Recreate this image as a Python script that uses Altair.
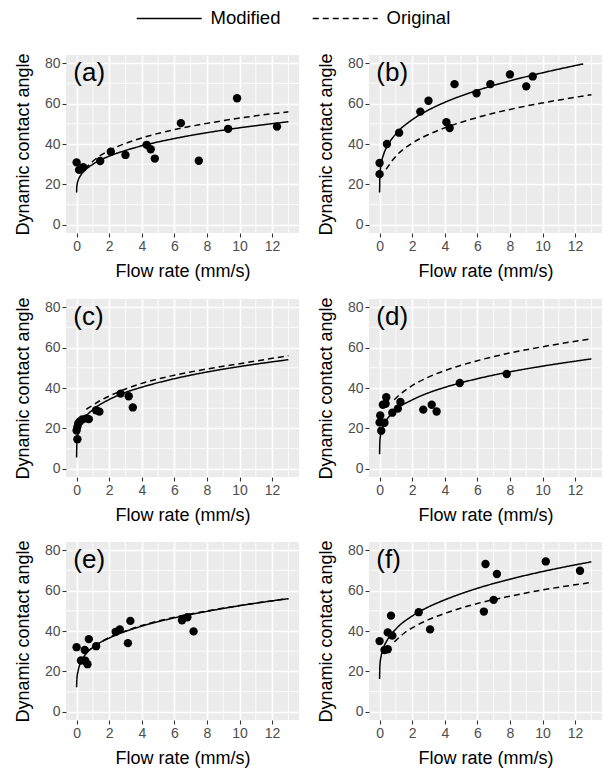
import altair as alt
import pandas as pd

FONT = "Liberation Sans"

# Axis breaks and minor grid positions
X_TICKS = [0, 2, 4, 6, 8, 10, 12]
Y_TICKS = [0, 20, 40, 60, 80]
X_MINOR = [1, 3, 5, 7, 9, 11, 13]
Y_MINOR = [10, 30, 50, 70]
X_DOMAIN = [-0.65, 13.65]
Y_DOMAIN = [-4, 84]

PANEL_LABELS = ["(a)", "(b)", "(c)", "(d)", "(e)", "(f)"]

# Measured flow rate (mm/s) and dynamic contact angle for each case
a_x = [0.0, 0.15, 0.4, 1.45, 2.1, 3.0, 4.3, 4.55, 4.8, 6.4, 7.5, 9.3, 9.85, 12.3]
a_y = [30.9, 27.2, 28.5, 31.6, 36.2, 34.6, 39.6, 37.4, 32.8, 50.3, 31.7, 47.5, 62.6, 48.6]
b_x = [0.0, 0.0, 0.45, 1.2, 2.5, 3.0, 4.1, 4.3, 4.6, 5.95, 6.8, 8.0, 9.0, 9.4]
b_y = [25.1, 30.6, 40.0, 45.6, 56.0, 61.4, 50.8, 47.9, 69.6, 65.1, 69.6, 74.4, 68.5, 73.4]
c_x = [0.0, 0.05, 0.05, 0.1, 0.2, 0.35, 0.6, 0.75, 1.2, 1.4, 2.7, 3.2, 3.45]
c_y = [19.0, 14.7, 20.8, 22.5, 23.5, 24.5, 25.0, 24.6, 29.0, 28.3, 37.2, 35.9, 30.4]
d_x = [0.0, 0.04, 0.1, 0.2, 0.3, 0.37, 0.41, 0.78, 1.12, 1.28, 2.68, 3.2, 3.5, 4.92, 7.8]
d_y = [23.0, 26.4, 18.9, 31.7, 22.8, 32.2, 35.4, 27.8, 29.8, 33.1, 29.3, 31.7, 28.4, 42.5, 46.9]
e_x = [0.0, 0.27, 0.5, 0.53, 0.67, 0.75, 1.2, 2.4, 2.65, 3.15, 3.3, 6.47, 6.8, 7.18]
e_y = [32.0, 25.4, 30.6, 25.3, 23.6, 36.0, 32.5, 39.6, 40.8, 34.0, 45.0, 45.3, 46.8, 39.8]
f_x = [0.0, 0.3, 0.5, 0.5, 0.7, 0.78, 2.4, 3.1, 6.4, 6.5, 7.0, 7.2, 10.2, 12.3]
f_y = [35.0, 30.6, 31.0, 39.3, 47.6, 37.7, 49.3, 40.8, 49.6, 73.1, 55.4, 68.2, 74.4, 69.8]

# Fitted curves: Modified model (solid)
a_mod_x = [0, 0.02, 0.1, 0.25, 0.5, 1, 2, 3, 4, 6, 8, 10, 13]
a_mod_y = [16.0, 19.4, 22.1, 24.5, 26.9, 30.0, 34.0, 36.8, 39.1, 42.7, 45.6, 48.0, 51.0]
b_mod_x = [0, 0.02, 0.1, 0.25, 0.5, 1, 2, 3, 4, 6, 8, 10, 12.5]
b_mod_y = [16.0, 24.6, 30.2, 34.9, 39.4, 45.0, 52.0, 56.8, 60.6, 66.5, 71.2, 75.2, 79.6]
c_mod_x = [0, 0.02, 0.1, 0.25, 0.5, 1, 2, 3, 4, 6, 8, 10, 13]
c_mod_y = [5.6, 13.6, 18.1, 21.7, 25.2, 29.3, 34.3, 37.8, 40.4, 44.6, 47.9, 50.6, 54.0]
d_mod_x = [0, 0.02, 0.1, 0.25, 0.5, 1, 2, 3, 4, 6, 8, 10, 13]
d_mod_y = [7.3, 14.0, 18.2, 21.7, 25.0, 29.3, 34.1, 37.6, 40.3, 44.6, 48.0, 50.8, 54.4]
e_mod_x = [0, 0.02, 0.1, 0.25, 0.5, 1, 2, 3, 4, 6, 8, 10, 13]
e_mod_y = [12.2, 16.5, 20.5, 24.5, 27.9, 31.9, 36.5, 39.8, 42.4, 46.5, 49.7, 52.5, 56.0]
f_mod_x = [0, 0.02, 0.1, 0.25, 0.5, 1, 2, 3, 4, 6, 8, 10, 13]
f_mod_y = [16.3, 23.0, 27.8, 31.9, 35.9, 41.0, 47.4, 51.9, 55.4, 61.1, 65.6, 69.4, 74.2]

# Fitted curves: Original model (dashed)
a_org_x = [0.5, 1, 2, 3, 4, 6, 8, 10, 13]
a_org_y = [27.5, 31.5, 36.8, 40.3, 43.0, 47.1, 50.2, 52.8, 55.9]
b_org_x = [0.4, 1, 2, 3, 4, 6, 8, 10, 13]
b_org_y = [27.5, 34.0, 40.4, 44.7, 48.0, 53.1, 57.1, 60.3, 64.4]
c_org_x = [0.6, 1, 1.5, 2, 3, 4, 6, 8, 10, 13]
c_org_y = [29.5, 31.5, 34.0, 36.0, 39.5, 42.3, 46.3, 49.4, 52.0, 56.0]
d_org_x = [0.9, 1.5, 2, 3, 4, 6, 8, 10, 13]
d_org_y = [34.2, 38.5, 41.2, 45.4, 48.6, 53.5, 57.3, 60.4, 64.3]
e_org_x = [0.6, 1, 2, 3, 4, 6, 8, 10, 13]
e_org_y = [29.5, 32.0, 36.8, 40.0, 42.7, 46.8, 49.9, 52.6, 56.0]
f_org_x = [0.9, 1.5, 2, 3, 4, 6, 8, 10, 13]
f_org_y = [34.6, 38.9, 41.5, 45.6, 48.7, 53.6, 57.2, 60.3, 64.0]

MODELS = ["Modified", "Original"]

PW, PH = 233, 178

x_scale = alt.Scale(domain=X_DOMAIN, nice=False, zero=False)
y_scale = alt.Scale(domain=Y_DOMAIN, nice=False, zero=False)
x_axis = alt.Axis(values=X_TICKS, title="Flow rate (mm/s)", grid=True)
y_axis = alt.Axis(values=Y_TICKS, title="Dynamic contact angle", grid=True)


def panel(label, px, py, mx, my, ox, oy):
    pts = pd.DataFrame({"x": px, "y": py})
    curves = pd.concat([
        pd.DataFrame({"x": mx, "y": my, "model": MODELS[0]}),
        pd.DataFrame({"x": ox, "y": oy, "model": MODELS[1]}),
    ])
    xminor = pd.DataFrame({"x": X_MINOR})
    yminor = pd.DataFrame({"y": Y_MINOR})
    lab = pd.DataFrame({"x": [-0.2], "y": [75], "t": [label]})

    vminor = alt.Chart(xminor).mark_rule(color="white", strokeWidth=0.8).encode(
        x=alt.X("x:Q", scale=x_scale, axis=x_axis)
    )
    hminor = alt.Chart(yminor).mark_rule(color="white", strokeWidth=0.8).encode(
        y=alt.Y("y:Q", scale=y_scale, axis=y_axis)
    )
    lines = alt.Chart(curves).mark_line(
        color="black", strokeWidth=1.5, interpolate="monotone", clip=True
    ).encode(
        x=alt.X("x:Q", scale=x_scale, axis=x_axis),
        y=alt.Y("y:Q", scale=y_scale, axis=y_axis),
        strokeDash=alt.StrokeDash(
            "model:N",
            scale=alt.Scale(domain=MODELS, range=[[1, 0], [6, 4]]),
            legend=alt.Legend(
                title=None,
                orient="none",
                direction="horizontal",
                legendX=94,
                legendY=-46,
                symbolType="M-4,0L4,0",
                symbolSize=264,
                symbolStrokeWidth=1.5,
                symbolStrokeColor="black",
                labelFontSize=18.5,
                labelFont=FONT,
                labelColor="black",
                labelOffset=32,
                columnPadding=28,
            ),
        ),
        detail="model:N",
    )
    dots = alt.Chart(pts).mark_circle(size=70, color="black", opacity=1).encode(
        x=alt.X("x:Q", scale=x_scale, axis=x_axis),
        y=alt.Y("y:Q", scale=y_scale, axis=y_axis),
    )
    text = alt.Chart(lab).mark_text(
        align="left", baseline="middle", fontSize=26, font=FONT, color="black"
    ).encode(
        x=alt.X("x:Q", scale=x_scale, axis=x_axis),
        y=alt.Y("y:Q", scale=y_scale, axis=y_axis),
        text="t:N",
    )
    return alt.layer(vminor, hminor, lines, dots, text).properties(width=PW, height=PH)


pa = panel(PANEL_LABELS[0], a_x, a_y, a_mod_x, a_mod_y, a_org_x, a_org_y)
pb = panel(PANEL_LABELS[1], b_x, b_y, b_mod_x, b_mod_y, b_org_x, b_org_y)
pc = panel(PANEL_LABELS[2], c_x, c_y, c_mod_x, c_mod_y, c_org_x, c_org_y)
pd_ = panel(PANEL_LABELS[3], d_x, d_y, d_mod_x, d_mod_y, d_org_x, d_org_y)
pe = panel(PANEL_LABELS[4], e_x, e_y, e_mod_x, e_mod_y, e_org_x, e_org_y)
pf = panel(PANEL_LABELS[5], f_x, f_y, f_mod_x, f_mod_y, f_org_x, f_org_y)

chart = alt.vconcat(
    alt.hconcat(pa, pb, spacing=17),
    alt.vconcat(
        alt.hconcat(pc, pd_, spacing=17),
        alt.hconcat(pe, pf, spacing=17),
        spacing=15,
    ),
    spacing=16,
).properties(
    padding={"left": 14, "top": 9, "right": 0, "bottom": 2},
    background="white",
).configure_view(
    fill="#EBEBEB", stroke=None
).configure_axis(
    domain=False,
    labelFont=FONT,
    labelFontSize=14,
    labelColor="#4D4D4D",
    labelPadding=2,
    tickColor="#333333",
    tickSize=4,
    tickWidth=1.1,
    titleFont=FONT,
    titleFontSize=18,
    titleFontWeight="normal",
    titleColor="black",
    gridColor="white",
    gridWidth=1.6,
).configure_axisX(
    titlePadding=9
).configure_axisY(
    titlePadding=12
).configure_text(font=FONT)

chart.save("out.html", embed_options={"renderer": "svg", "actions": False})
